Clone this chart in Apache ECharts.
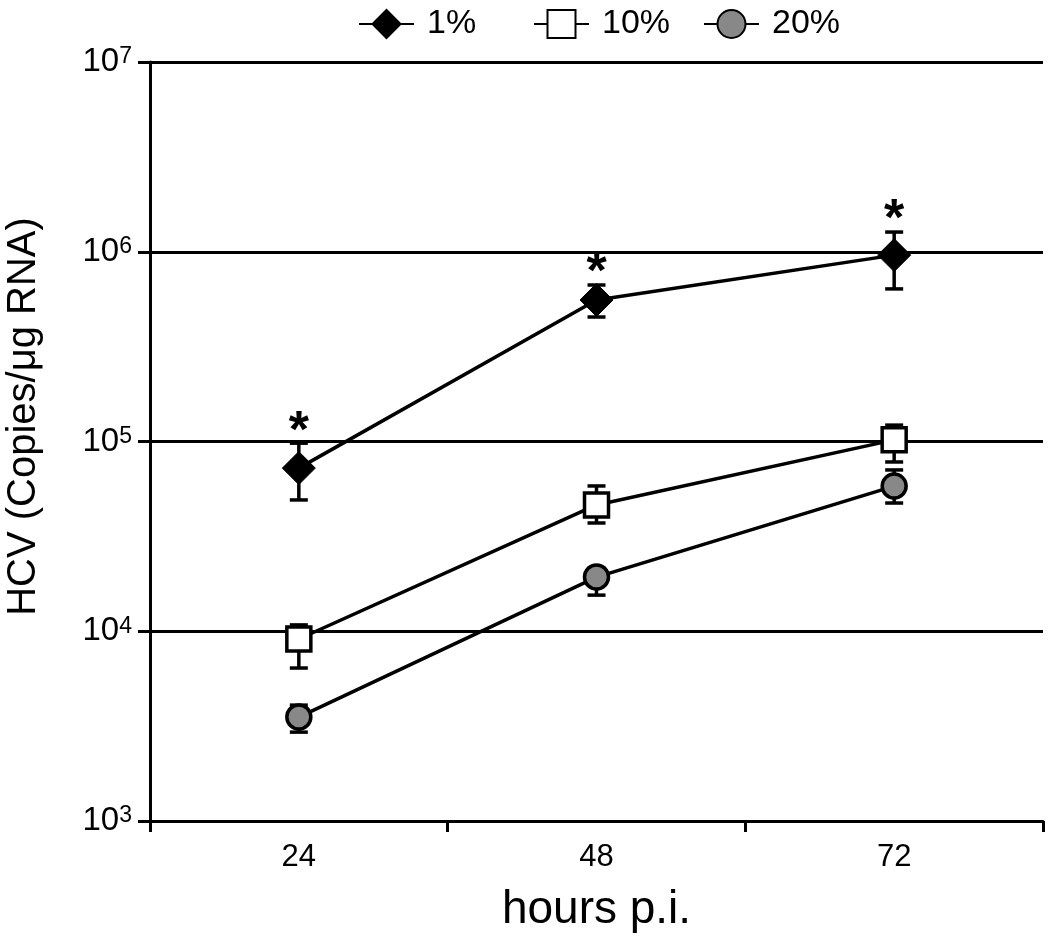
<!DOCTYPE html>
<html>
<head>
<meta charset="utf-8">
<script src="https://cdn.jsdelivr.net/npm/echarts@6/dist/echarts.min.js"></script>
<style>
html,body{margin:0;padding:0;background:#fff;}
#chart{width:1050px;height:945px;}
</style>
</head>
<body>
<div id="chart"></div>
<script>
// ---- data ----
const categories = ['24', '48', '72'];
const seriesNames = ['1%', '10%', '20%'];
const pct1 = [7.24e4, 5.57e5, 9.6e5];
const pct1Hi = [9.8e4, 6.68e5, 1.27e6];
const pct1Lo = [4.92e4, 4.53e5, 6.37e5];
const pct10 = [9.1e3, 4.63e4, 1.02e5];
const pct10Hi = [1.08e4, 5.83e4, 1.22e5];
const pct10Lo = [6.4e3, 3.72e4, 7.8e4];
const pct20 = [3.53e3, 1.93e4, 5.82e4];
const pct20Hi = [4.08e3, 2.15e4, 7.08e4];
const pct20Lo = [2.94e3, 1.55e4, 4.74e4];
const sig1 = ['*', '*', '*'];

const FONT = "'Liberation Sans', Arial, sans-serif";
const chart = echarts.init(document.getElementById('chart'), null, {renderer: 'canvas'});

function errData(lo, hi) {
  return lo.map((v, i) => [i, v, hi[i]]);
}
function errRender(params, api) {
  const x = api.value(0);
  const lo = api.coord([x, api.value(1)]);
  const hi = api.coord([x, api.value(2)]);
  const cx = lo[0];
  const hw = 9;
  const st = {stroke: '#000', lineWidth: 3.5};
  return {
    type: 'group',
    children: [
      {type: 'line', shape: {x1: cx, y1: lo[1], x2: cx, y2: hi[1]}, style: st},
      {type: 'line', shape: {x1: cx - hw, y1: lo[1], x2: cx + hw, y2: lo[1]}, style: st},
      {type: 'line', shape: {x1: cx - hw, y1: hi[1], x2: cx + hw, y2: hi[1]}, style: st}
    ]
  };
}
function sigRender(params, api) {
  const p = api.coord([api.value(0), api.value(1)]);
  return {
    type: 'text',
    style: {
      text: sig1[params.dataIndex],
      x: p[0], y: p[1] - 11,
      textAlign: 'center', textVerticalAlign: 'middle',
      font: 'bold 52px ' + FONT,
      fill: '#000'
    }
  };
}

const lineStyle = {color: '#000', width: 3.5};
function mkLegend(name, left) {
  return {
    data: [name], left: left, top: 2,
    itemWidth: 55, itemHeight: 35, itemGap: 0,
    textStyle: {fontFamily: FONT, fontSize: 34, color: '#000', padding: [0, 0, 0, 8]},
    selectedMode: false
  };
}

const option = {
  backgroundColor: '#fff',
  animation: false,
  legend: [mkLegend('1%', 353), mkLegend('10%', 528), mkLegend('20%', 698)],
  grid: {left: 150, right: 7, top: 62, bottom: 124, containLabel: false, outerBoundsMode: 'none'},
  xAxis: {
    type: 'category', data: categories, boundaryGap: true,
    name: 'hours p.i.', nameLocation: 'middle', nameGap: 66, nameMoveOverlap: false,
    nameTextStyle: {fontFamily: FONT, fontSize: 46, color: '#000'},
    axisLine: {lineStyle: {color: '#000', width: 3}},
    axisTick: {show: true, length: 11, lineStyle: {color: '#000', width: 3}},
    axisLabel: {fontFamily: FONT, fontSize: 31, color: '#000', margin: 21},
    splitLine: {show: false}
  },
  yAxis: {
    type: 'log', logBase: 10, min: 1000, max: 10000000,
    name: 'HCV (Copies/\u03bcg RNA)', nameLocation: 'middle', nameGap: 106, nameMoveOverlap: false,
    nameTextStyle: {fontFamily: FONT, fontSize: 40, color: '#000', padding: [0, 0, 0, 50]},
    axisLine: {show: true, lineStyle: {color: '#000', width: 3}},
    axisTick: {show: true, length: 12, lineStyle: {color: '#000', width: 3}},
    splitLine: {show: true, lineStyle: {color: '#000', width: 3}},
    minorTick: {show: false}, minorSplitLine: {show: false},
    axisLabel: {
      margin: 18,
      formatter: function (v) {
        const e = Math.round(Math.log10(v));
        return '{b|10}{s|' + e + '}';
      },
      rich: {
        b: {fontFamily: FONT, fontSize: 33, color: '#000', lineHeight: 33, verticalAlign: 'bottom'},
        s: {fontFamily: FONT, fontSize: 23, color: '#000', lineHeight: 16, verticalAlign: 'top'}
      }
    }
  },
  series: [
    {type: 'custom', name: 'err1', renderItem: errRender, data: errData(pct1Lo, pct1Hi), z: 1},
    {type: 'custom', name: 'err10', renderItem: errRender, data: errData(pct10Lo, pct10Hi), z: 1},
    {type: 'custom', name: 'err20', renderItem: errRender, data: errData(pct20Lo, pct20Hi), z: 1},
    {type: 'custom', name: 'sig', renderItem: sigRender, data: pct1Hi.map((v, i) => [i, v]), z: 3},
    {
      type: 'line', name: seriesNames[0], data: pct1, z: 5,
      symbol: 'diamond', symbolSize: [33, 33], showAllSymbol: true,
      lineStyle: lineStyle,
      itemStyle: {color: '#000', borderColor: '#000', borderWidth: 1}
    },
    {
      type: 'line', name: seriesNames[1], data: pct10, z: 5,
      symbol: 'rect', symbolSize: 24,
      lineStyle: lineStyle,
      itemStyle: {color: '#fff', borderColor: '#000', borderWidth: 3.5}
    },
    {
      type: 'line', name: seriesNames[2], data: pct20, z: 5,
      symbol: 'circle', symbolSize: 24,
      lineStyle: lineStyle,
      itemStyle: {color: '#888888', borderColor: '#000', borderWidth: 3.5}
    }
  ]
};
chart.setOption(option);
</script>
</body>
</html>
